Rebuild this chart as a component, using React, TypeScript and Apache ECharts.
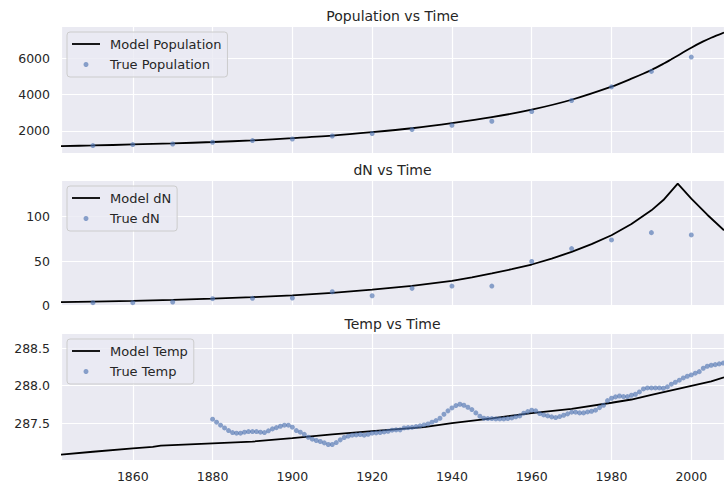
import React, { useEffect, useRef } from 'react';
import * as echarts from 'echarts';

// ---------- data ----------
const decadeYears = [1850, 1860, 1870, 1880, 1890, 1900, 1910, 1920, 1930, 1940, 1950, 1960, 1970, 1980, 1990, 2000];
const truePopulation = [1193, 1249, 1282, 1376, 1470, 1558, 1724, 1856, 2077, 2315, 2536, 3072, 3680, 4431, 5282, 6072];

const modelPopYears = [1842, 1850, 1860, 1870, 1880, 1890, 1900, 1910, 1920, 1930, 1940, 1950, 1960, 1970, 1980, 1985, 1990, 1993, 1995, 1997, 2000, 2003, 2005, 2008.2];
const modelPopulation = [1165, 1200, 1255, 1315, 1390, 1480, 1600, 1740, 1930, 2150, 2430, 2760, 3175, 3720, 4440, 4880, 5360, 5700, 5950, 6205, 6590, 6935, 7135, 7424];

const trueDN = [3.2, 3.2, 4.0, 7.7, 8.1, 8.4, 15.5, 11.0, 19.3, 21.9, 21.9, 49.5, 64.0, 73.7, 81.9, 79.3];

const modelDNYears = [1842, 1850, 1860, 1870, 1880, 1890, 1900, 1910, 1920, 1930, 1940, 1945, 1950, 1955, 1960, 1965, 1970, 1975, 1980, 1985, 1990, 1993, 1996.6, 2000, 2004, 2008.2];
const modelDN = [3.8, 4.4, 5.2, 6.3, 7.7, 9.4, 11.5, 14.2, 17.8, 22.2, 27.8, 31.6, 36.1, 40.8, 46.1, 52.8, 60.2, 69, 78.9, 91.5, 106.9, 118.5, 137, 120, 102, 84.5];

const tempStartYear = 1880;
const trueTemp = [
  287.553, 287.513, 287.473, 287.437, 287.402, 287.375, 287.367, 287.367, 287.38, 287.388,
  287.388, 287.388, 287.38, 287.375, 287.398, 287.424, 287.441, 287.459, 287.473, 287.473,
  287.447, 287.402, 287.38, 287.352, 287.313, 287.287, 287.269, 287.256, 287.238, 287.216,
  287.216, 287.242, 287.278, 287.309, 287.327, 287.34, 287.344, 287.349, 287.34, 287.353,
  287.367, 287.371, 287.375, 287.384, 287.393, 287.407, 287.411, 287.411, 287.437, 287.441,
  287.445, 287.455, 287.464, 287.477, 287.49, 287.513, 287.535, 287.566, 287.619, 287.664,
  287.703, 287.734, 287.752, 287.739, 287.712, 287.681, 287.637, 287.593, 287.566, 287.561,
  287.561, 287.557, 287.557, 287.557, 287.561, 287.57, 287.586, 287.597, 287.633, 287.654,
  287.673, 287.664, 287.628, 287.61, 287.597, 287.584, 287.575, 287.588, 287.606, 287.624,
  287.646, 287.646, 287.637, 287.637, 287.65, 287.659, 287.673, 287.707, 287.739, 287.8,
  287.832, 287.85, 287.862, 287.854, 287.854, 287.872, 287.885, 287.916, 287.956, 287.969,
  287.969, 287.969, 287.969, 287.965, 287.983, 288.019, 288.045, 288.072, 288.102, 288.125,
  288.142, 288.165, 288.186, 288.231, 288.258, 288.271, 288.279, 288.289, 288.3,
];

const modelTempYears = [1842, 1850, 1860, 1865, 1867, 1880, 1890, 1900, 1910, 1920, 1933, 1940, 1950, 1960, 1970, 1980, 1985, 1990, 2000, 2005, 2008.2];
const modelTemp = [287.082, 287.12, 287.165, 287.185, 287.2, 287.232, 287.255, 287.3, 287.35, 287.393, 287.447, 287.5, 287.565, 287.635, 287.69, 287.772, 287.815, 287.875, 287.997, 288.055, 288.11];

const titles = ['Population vs Time', 'dN vs Time', 'Temp vs Time'];
const seriesNames = [
  ['Model Population', 'True Population'],
  ['Model dN', 'True dN'],
  ['Model Temp', 'True Temp'],
];

// ---------- style ----------
const FONT = 'DejaVu Sans';
const TXT = '#262626';
const DOT = 'rgba(76,114,176,0.8)';
const LINE_ICON = 'path://M0,0L28,0L28,1.8L0,1.8Z';

const gridBoxes = [
  { top: 26, height: 127 },
  { top: 180, height: 126 },
  { top: 333, height: 127 },
];
const yRanges = [
  { min: 785, max: 7785, step: 2000, fmt: (v: number) => String(Math.round(v)) },
  { min: -0.5, max: 141, step: 50, fmt: (v: number) => String(Math.round(v)) },
  { min: 287.01, max: 288.7, step: 0.5, fmt: (v: number) => v.toFixed(1) },
];
const titleCenters = [16, 170, 323.5];

export default function App() {
  const ref = useRef<HTMLDivElement>(null);

  useEffect(() => {
    if (!ref.current) return;
    const chart = echarts.init(ref.current, null, { renderer: 'svg' });

    const pair = (xs: number[], ys: number[]) => xs.map((x, i) => [x, ys[i]]);
    const tempPoints = trueTemp.map((v, i) => [tempStartYear + i, v]);

    const lines = [
      pair(modelPopYears, modelPopulation),
      pair(modelDNYears, modelDN),
      pair(modelTempYears, modelTemp),
    ];
    const dots = [pair(decadeYears, truePopulation), pair(decadeYears, trueDN), tempPoints];

    const series: any[] = [];
    for (let i = 0; i < 3; i++) {
      series.push({
        type: 'line',
        name: seriesNames[i][0],
        xAxisIndex: i,
        yAxisIndex: i,
        data: lines[i],
        showSymbol: false,
        symbol: 'none',
        smooth: i === 0 ? 0.3 : false,
        lineStyle: { color: '#000', width: 1.8 },
        itemStyle: { color: '#000' },
        z: 2,
        silent: true,
      });
      series.push({
        type: 'scatter',
        name: seriesNames[i][1],
        xAxisIndex: i,
        yAxisIndex: i,
        data: dots[i],
        symbolSize: 5,
        itemStyle: { color: DOT },
        z: 3,
        silent: true,
      });
    }

    const option: any = {
      animation: false,
      backgroundColor: '#ffffff',
      textStyle: { fontFamily: FONT },
      grid: gridBoxes.map((g) => ({
        left: 61,
        right: 0,
        top: g.top,
        height: g.height,
        show: true,
        backgroundColor: '#EAEAF2',
        borderWidth: 0,
        containLabel: false,
      })),
      xAxis: [0, 1, 2].map((i) => ({
        type: 'value',
        gridIndex: i,
        min: 1842,
        max: 2008.2,
        minInterval: 20,
        maxInterval: 20,
        axisLine: { show: false },
        axisTick: { show: false },
        splitLine: { show: true, lineStyle: { color: '#ffffff', width: 1.2 } },
        axisLabel: {
          show: i === 2,
          showMinLabel: false,
          showMaxLabel: false,
          fontSize: 12.5,
          fontFamily: FONT,
          color: TXT,
          margin: 10,
          formatter: (v: number) => String(Math.round(v)),
        },
      })),
      yAxis: yRanges.map((r, i) => ({
        type: 'value',
        gridIndex: i,
        min: r.min,
        max: r.max,
        minInterval: r.step,
        maxInterval: r.step,
        axisLine: { show: false },
        axisTick: { show: false },
        splitLine: { show: true, lineStyle: { color: '#ffffff', width: 1.2 } },
        axisLabel: {
          showMinLabel: false,
          showMaxLabel: false,
          fontSize: 12.5,
          fontFamily: FONT,
          color: TXT,
          margin: 11,
          formatter: r.fmt,
        },
      })),
      legend: [0, 1, 2].map((i) => ({
        orient: 'vertical',
        left: 67,
        top: gridBoxes[i].top + 6,
        data: [
          { name: seriesNames[i][0], icon: LINE_ICON },
          { name: seriesNames[i][1], icon: 'circle' },
        ],
        itemWidth: 28,
        itemHeight: 5,
        itemGap: 4.5,
        padding: [4, 6, 4.5, 5],
        backgroundColor: 'rgba(234,234,242,0.8)',
        borderColor: '#cccccc',
        borderWidth: 1,
        borderRadius: 3,
        selectedMode: false,
        textStyle: {
          fontSize: 13,
          fontFamily: FONT,
          color: TXT,
          lineHeight: 16,
          padding: [0, 0, 0, 5],
        },
      })),
      graphic: titles.map((t, i) => ({
        type: 'text',
        x: 392.5,
        y: titleCenters[i],
        silent: true,
        style: {
          text: t,
          align: 'center',
          verticalAlign: 'middle',
          fontSize: 14,
          fontFamily: FONT,
          fill: TXT,
        },
      })),
      series,
    };

    chart.setOption(option);
    return () => {
      chart.dispose();
    };
  }, []);

  return (
    <div
      ref={ref}
      style={{ position: 'absolute', left: 0, top: 0, width: 724, height: 489 }}
    />
  );
}
